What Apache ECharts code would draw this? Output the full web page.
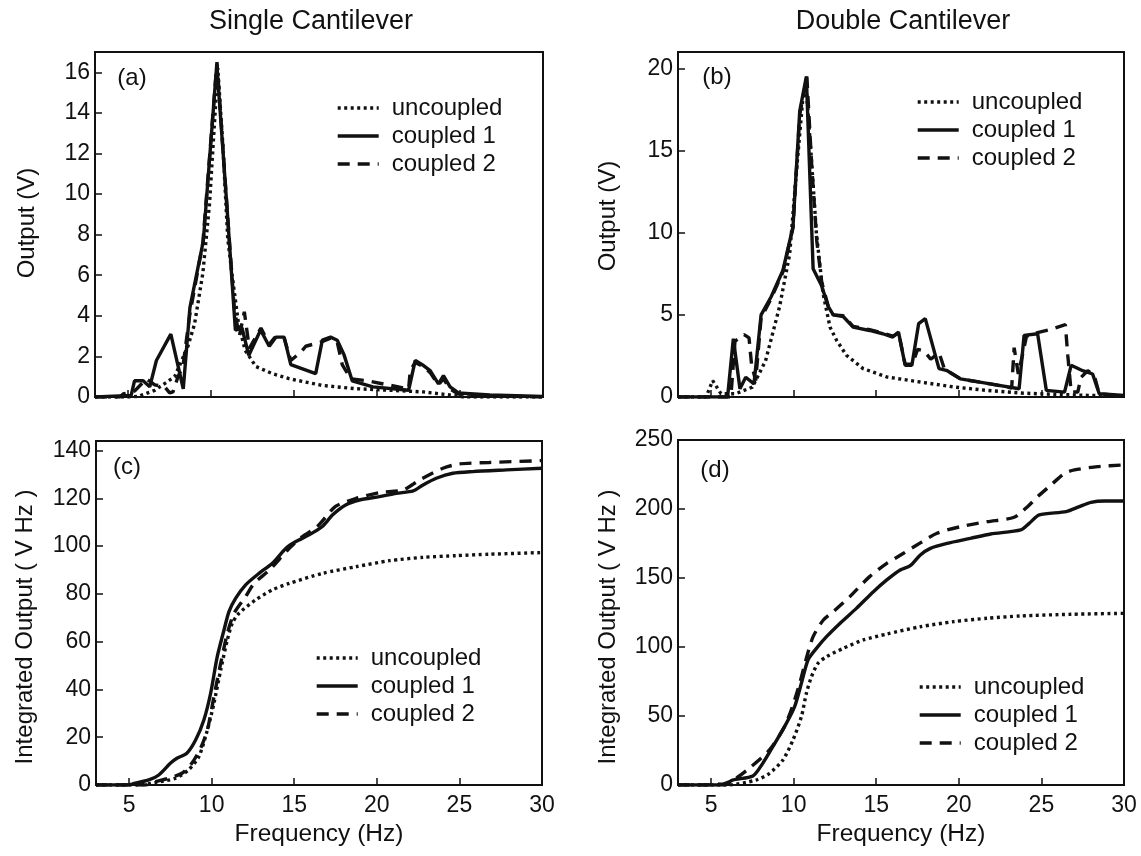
<!DOCTYPE html>
<html>
<head>
<meta charset="utf-8">
<title>Cantilever output</title>
<script src="https://cdn.jsdelivr.net/npm/echarts@6/dist/echarts.min.js"></script>
<style>
  html, body { margin: 0; padding: 0; background: #fff; }
  #chart { width: 1141px; height: 856px; }
</style>
</head>
<body>
<div id="chart"></div>
<script>
// frequency ticks shared by all panels
var freqTicks = [5, 10, 15, 20, 25, 30];
var seriesNames = ['uncoupled', 'coupled 1', 'coupled 2'];

// (a) single cantilever output, V
var aTicks = [0, 2, 4, 6, 8, 10, 12, 14, 16];
var aUncoupled = [[3, 0], [5, 0], [5.6, 0.03], [6.6, 0.33], [7.8, 1.0], [8.6, 2.5], [9.0, 3.6], [9.5, 6.1],
  [9.9, 9.5], [10.2, 13.5], [10.4, 16.2], [10.7, 12.5], [11.0, 7.8], [11.25, 6.1], [11.65, 3.6], [12.05, 2.3],
  [12.7, 1.5], [13.7, 1.15], [14.7, 0.9], [16.7, 0.57], [18.7, 0.41], [20.8, 0.33], [22.8, 0.25], [24.6, 0.08],
  [25.2, 0], [30, 0]];
var aCoupled1 = [[3, 0], [5.18, 0.08], [5.38, 0.8], [5.9, 0.8], [6.3, 0.5], [6.7, 1.8], [7.57, 3.1], [8.32, 0.4],
  [8.72, 4.4], [9.53, 7.7], [10.34, 16.4], [10.95, 9.4], [11.46, 3.3], [11.86, 3.4], [12.27, 2.05], [12.98, 3.3],
  [13.5, 2.5], [13.9, 2.95], [14.4, 2.95], [14.8, 1.6], [16.3, 1.15], [16.7, 2.8], [17.2, 2.95], [17.6, 2.8],
  [18.0, 2.1], [18.5, 0.8], [19.75, 0.5], [21.9, 0.33], [22.3, 1.8], [22.8, 1.55], [23.2, 1.3], [23.7, 0.65],
  [24.0, 1.05], [24.4, 0.5], [24.9, 0.2], [26.8, 0.1], [30, 0.03]];
var aCoupled2 = [[3, 0], [4.5, 0], [4.7, 0.15], [5.4, 0.3], [6.1, 0.9], [6.6, 0.6], [7.2, 0.5], [7.5, 0.2],
  [7.7, 0.25], [8.0, 1.0], [8.3, 1.5], [8.7, 4.0], [9.5, 7.6], [10.35, 16.5], [10.9, 10], [11.4, 4.3], [11.7, 3.0],
  [12.0, 4.2], [12.3, 2.4], [13.0, 3.4], [13.5, 2.6], [13.9, 3.0], [14.4, 2.9], [14.8, 1.8], [15.4, 2.2],
  [15.7, 2.5], [16.6, 2.7], [17.2, 2.9], [17.6, 2.7], [17.9, 1.6], [18.4, 0.9], [19.4, 0.8], [21.9, 0.4],
  [22.0, 1.3], [22.3, 1.7], [22.8, 1.5], [23.2, 1.2], [23.7, 0.6], [24.0, 0.9], [24.4, 0.4], [24.9, 0.15],
  [27, 0.05], [30, 0]];

// (b) double cantilever output, V
var bTicks = [0, 5, 10, 15, 20];
var bUncoupled = [[3, 0], [4.7, 0], [5.1, 1.0], [5.6, 0.2], [6.5, 0.2], [7.5, 0.6], [8.3, 2.2], [9.15, 5.5],
  [9.76, 8.7], [10.16, 13.6], [10.57, 18.3], [10.77, 18.7], [11.07, 14.6], [11.38, 9.95], [11.78, 6.3],
  [12.2, 4.26], [12.6, 3.45], [13.2, 2.54], [14.2, 1.73], [15.64, 1.22], [17.67, 0.91], [19.7, 0.61],
  [21.7, 0.4], [23.75, 0.24], [25.8, 0.16], [27.8, 0.1], [30, 0.05]];
var bCoupled1 = [[3, 0], [6.0, 0], [6.35, 3.55], [6.75, 0.5], [7.1, 1.2], [7.6, 0.8], [8.03, 5.0], [8.64, 6.1],
  [9.35, 7.7], [9.96, 10.35], [10.37, 17.4], [10.77, 19.5], [11.18, 7.8], [11.68, 6.8], [12.1, 5.5], [12.4, 5.0],
  [13.0, 4.9], [13.6, 4.25], [14.6, 4.05], [15.4, 3.85], [16.0, 3.65], [16.35, 3.95], [16.75, 1.93], [17.16, 1.93],
  [17.57, 4.47], [17.97, 4.77], [18.8, 1.73], [19.3, 1.6], [20.1, 1.1], [21.9, 0.8], [23.65, 0.5], [23.95, 3.75],
  [24.77, 3.85], [25.3, 0.4], [26.4, 0.3], [26.8, 1.93], [27.5, 1.6], [28.1, 1.4], [28.5, 0.2], [30, 0.1]];
var bCoupled2 = [[3, 0], [6.2, 0], [6.45, 3.4], [7.0, 3.8], [7.3, 3.6], [7.45, 2.0], [7.7, 1.0], [8.03, 4.8],
  [8.64, 6.0], [9.35, 7.6], [9.96, 10.3], [10.37, 17.2], [10.8, 19.5], [11.1, 14], [11.4, 9.5], [11.7, 7.0],
  [12.1, 5.5], [12.4, 5.0], [13.0, 4.95], [13.6, 4.3], [14.6, 4.1], [15.4, 3.9], [16.0, 3.7], [16.35, 3.9],
  [16.75, 2.0], [17.2, 2.0], [17.5, 2.9], [17.9, 2.8], [18.3, 2.3], [18.8, 2.7], [19.1, 1.8], [19.3, 1.6],
  [20.1, 1.1], [21.9, 0.8], [23.2, 0.55], [23.35, 3.0], [23.6, 1.4], [24.1, 3.7], [24.7, 3.9], [25.5, 4.1],
  [26.45, 4.4], [26.6, 2.5], [26.8, 0.3], [27.2, 0.3], [27.4, 1.2], [27.8, 1.6], [28.2, 1.3], [28.5, 0.2],
  [30, 0.05]];

// (c) single cantilever integrated output, V Hz
var cTicks = [0, 20, 40, 60, 80, 100, 120, 140];
var cUncoupled = [[3, 0], [5.5, 0], [6.6, 1.0], [7.8, 2.8], [8.6, 6.3], [9.23, 11.9], [9.74, 23], [10.14, 34.2],
  [10.55, 48.2], [10.95, 60.7], [11.25, 67.7], [11.66, 71.9], [12.67, 77.5], [13.68, 81.7], [14.7, 84.4],
  [16.72, 88.6], [18.75, 91.4], [20.77, 93.9], [22.8, 95.3], [24.8, 96], [26.8, 96.6], [30, 97.3]];
var cCoupled1 = [[3, 0], [5, 0], [5.18, 0.4], [6.2, 2.1], [6.8, 4.2], [7.5, 9.1], [7.9, 11.2], [8.5, 13.3],
  [9.03, 18.8], [9.53, 27.2], [9.94, 38.4], [10.34, 53.7], [10.75, 64.9], [11.05, 72.6], [11.46, 78.2],
  [12.06, 83.8], [12.87, 88.6], [13.68, 92.8], [14.5, 99.1], [15.1, 101.9], [15.9, 104.7], [16.7, 108.2],
  [17.33, 113.1], [18.14, 117.3], [18.95, 119.3], [20.16, 120.7], [21.17, 122.1], [22.2, 123.1], [22.8, 125.6],
  [23.6, 128.4], [24.6, 130.5], [25.8, 131.2], [27.85, 131.9], [30, 132.6]];
var cCoupled2 = [[3, 0], [6, 0], [6.6, 1.4], [7.4, 2.8], [8.2, 4.9], [8.8, 9.1], [9.33, 15.4], [9.74, 23],
  [10.14, 37], [10.55, 51], [10.95, 63.5], [11.36, 71.9], [12.06, 78.9], [12.57, 84.4], [13.5, 90], [14.7, 99.1],
  [15.5, 104], [16.4, 108.2], [17.5, 116.6], [18.75, 120], [20.16, 122.4], [21.6, 123.5], [22.6, 127.7],
  [24.0, 132.6], [25.0, 134.4], [26.8, 135], [30, 135.8]];

// (d) double cantilever integrated output, V Hz
var dTicks = [0, 50, 100, 150, 200, 250];
var dUncoupled = [[3, 0], [6, 0], [7.73, 3.6], [8.54, 8.5], [9.35, 18.1], [9.96, 32.6], [10.47, 49.5],
  [10.77, 66.4], [11.08, 78.5], [11.48, 88.2], [11.99, 93], [13.0, 99], [14.22, 105.1], [15.64, 109.4],
  [17.67, 114.7], [19.7, 118.4], [21.72, 120.8], [23.75, 122.5], [26.8, 123.7], [30, 124.4]];
var dCoupled1 = [[3, 0], [5.8, 0], [6.3, 3.6], [7.53, 6.5], [8.13, 15.7], [8.74, 27.8], [9.45, 42.3],
  [10.06, 56.8], [10.47, 73.7], [10.87, 90.6], [11.38, 99], [11.99, 107.5], [12.8, 117.1], [13.8, 128],
  [14.83, 140.1], [15.64, 148.6], [16.45, 155.8], [17.06, 158.9], [17.67, 166.7], [18.28, 171.5], [19.29, 175.1],
  [20.7, 178.7], [21.93, 181.9], [23.75, 184.8], [24.26, 189.6], [24.87, 195.7], [26.5, 198.1], [27.3, 201.7],
  [28.0, 204.8], [28.8, 205.8], [30, 205.8]];
var dCoupled2 = [[3, 0], [4.8, 0], [5.1, 1.2], [5.6, 0.5], [6.5, 4.8], [7.3, 12], [8.54, 25.4], [9.45, 42.3],
  [9.96, 58], [10.37, 73.7], [10.77, 91.8], [11.18, 107.5], [11.8, 119.6], [12.4, 125.6], [13.4, 136.5],
  [14.6, 151], [15.64, 160.6], [16.65, 167.9], [17.46, 173.9], [18.68, 182.4], [20.1, 187.2], [21.72, 190.8],
  [23.35, 194], [24.16, 201.7], [24.77, 208.9], [25.58, 217.4], [26.4, 225.8], [27.0, 228.3], [28.4, 230.7],
  [30, 231.9]];

var FONT = "'Liberation Sans', Arial, sans-serif";
var INK = '#111';

var chart = echarts.init(document.getElementById('chart'));

var grids = [
  { left: 95, top: 52, width: 448, height: 345 },
  { left: 678, top: 52, width: 446, height: 345 },
  { left: 96, top: 441, width: 446, height: 344 },
  { left: 678, top: 440, width: 446, height: 345 }
];
var yMax = [17, 21, 144, 250];
var yTicks = [aTicks, bTicks, cTicks, dTicks];
var panelData = [
  [aUncoupled, aCoupled1, aCoupled2],
  [bUncoupled, bCoupled1, bCoupled2],
  [cUncoupled, cCoupled1, cCoupled2],
  [dUncoupled, dCoupled1, dCoupled2]
];
var lineTypes = [[3, 3.5], 'solid', [12, 8]];

var xAxes = [];
var yAxes = [];
var series = [];
grids.forEach(function (g, i) {
  g.show = true;
  g.borderColor = INK;
  g.borderWidth = 2;
  g.containLabel = false;
  xAxes.push({
    type: 'value',
    gridIndex: i,
    min: 3,
    max: 30,
    axisLine: { show: true, lineStyle: { color: INK, width: 2 } },
    axisTick: { show: true, inside: true, length: 7, customValues: freqTicks, lineStyle: { color: INK, width: 1.5 } },
    axisLabel: {
      show: i >= 2,
      customValues: freqTicks,
      margin: 9,
      color: INK,
      fontSize: 23,
      fontFamily: FONT
    },
    splitLine: { show: false }
  });
  yAxes.push({
    type: 'value',
    gridIndex: i,
    min: 0,
    max: yMax[i],
    axisLine: { show: true, lineStyle: { color: INK, width: 2 } },
    axisTick: { show: true, inside: true, length: 7, customValues: yTicks[i], lineStyle: { color: INK, width: 1.5 } },
    axisLabel: {
      customValues: yTicks[i],
      margin: 5,
      color: INK,
      fontSize: 23,
      fontFamily: FONT
    },
    splitLine: { show: false }
  });
  panelData[i].forEach(function (d, k) {
    series.push({
      name: seriesNames[k],
      type: 'line',
      xAxisIndex: i,
      yAxisIndex: i,
      data: d,
      symbol: 'none',
      smooth: i >= 2 ? 0.25 : false,
      animation: false,
      z: k === 1 ? 4 : 3,
      color: INK,
      itemStyle: { color: INK },
      lineStyle: { color: INK, width: 3.4, type: lineTypes[k] }
    });
  });
});

// legend anchors: sample line start x, first row centre y
var legendPos = [[336, 108], [916, 102], [315, 658], [918, 687]];
var legends = legendPos.map(function (p) {
  return {
    show: true,
    data: seriesNames,
    orient: 'vertical',
    left: p[0],
    top: p[1] - 12,
    padding: 0,
    itemWidth: 41,
    itemHeight: 14,
    itemGap: 4,
    selectedMode: false,
    itemStyle: { opacity: 0 },
    lineStyle: { width: 3.4 },
    textStyle: { color: INK, fontSize: 24, fontFamily: FONT, padding: [0, 0, 0, 8] }
  };
});

function label(text, x, y, size, rotate) {
  return {
    type: 'text',
    x: x,
    y: y,
    rotation: rotate ? Math.PI / 2 : 0,
    style: {
      text: text,
      fill: INK,
      font: size + 'px ' + FONT,
      textAlign: 'center',
      textVerticalAlign: 'middle'
    }
  };
}

var option = {
  backgroundColor: '#fff',
  animation: false,
  grid: grids,
  xAxis: xAxes,
  yAxis: yAxes,
  legend: legends,
  series: series,
  graphic: [
    label('Single Cantilever', 311, 22, 27),
    label('Double Cantilever', 903, 22, 27),
    label('(a)', 132, 78, 24),
    label('(b)', 717, 77, 24),
    label('(c)', 127, 467, 24),
    label('(d)', 715, 470, 24),
    label('Output (V)', 27, 223, 24, true),
    label('Output (V)', 608, 216, 24, true),
    label('Integrated Output ( V Hz )', 25, 627, 24, true),
    label('Integrated Output ( V Hz )', 608, 627, 24, true),
    label('Frequency (Hz)', 319, 834, 24.5),
    label('Frequency (Hz)', 901, 834, 24.5)
  ]
};
chart.setOption(option);
</script>
</body>
</html>
